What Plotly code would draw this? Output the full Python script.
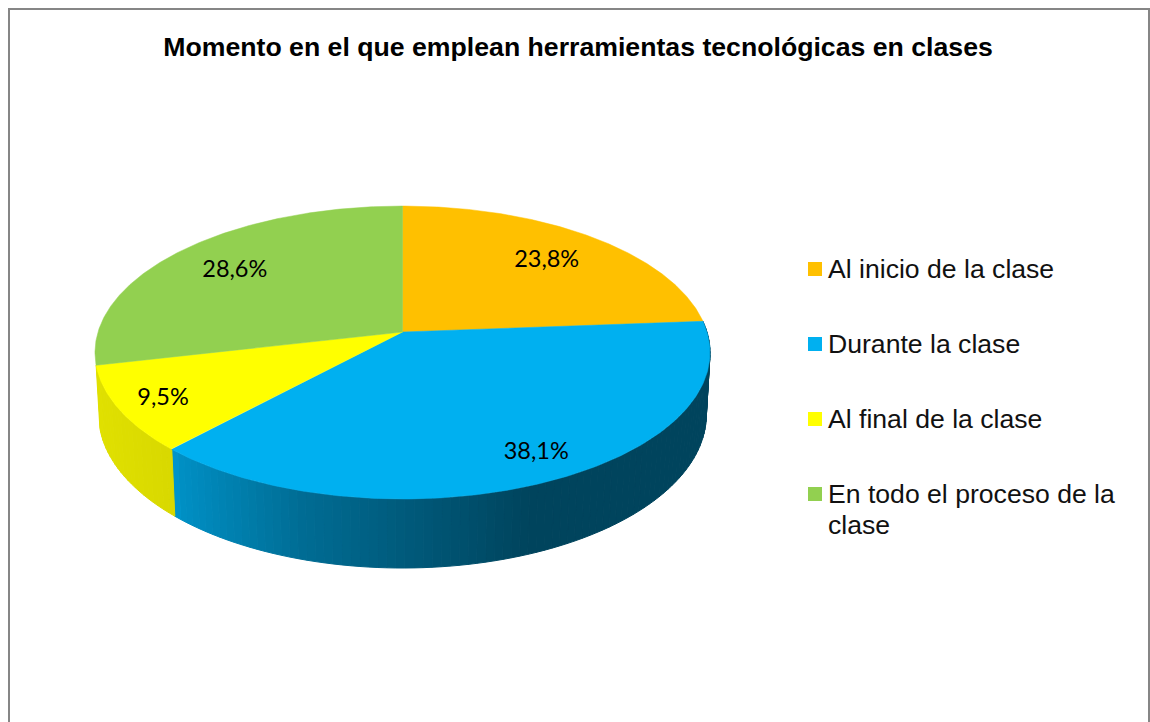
import numpy as np
import plotly.graph_objects as go

titulo = "Momento en el que emplean herramientas tecnológicas en clases"
categorias = ["Al inicio de la clase", "Durante la clase", "Al final de la clase", "En todo el proceso de la<br>clase"]
valores = [23.8, 38.1, 9.5, 28.6]
etiquetas = ["23,8%", "38,1%", "9,5%", "28,6%"]
colores = [(255, 192, 0), (0, 176, 240), (255, 255, 0), (146, 208, 80)]

# donde cae cada etiqueta dentro de su porcion (radio relativo, giro en grados)
radio_etiqueta = [0.75, 0.84, 0.854, 0.75]
giro_etiqueta = [0, -2.2, 0, 0]

# perspectiva del disco, todo en pixeles de la pagina
CX, CY = 402.5, 332
A, B, K = 304.5, 143.6, 0.14
GROSOR, M = 62.2, 0.012


def proyectar(theta, r=1.0, h=0):
    # theta en grados, en sentido horario desde arriba; h=1 es la cara inferior
    u = r * np.sin(np.radians(theta))
    v = -r * np.cos(np.radians(theta))
    w = 1 - K * v + M * h
    return CX + A * u / w, CY + (B * v + GROSOR * h) / w


def sombra(x):
    return np.interp(x, [97, 174, 178, 300, 400, 530, 710], [0.88, 0.85, 0.82, 0.62, 0.52, 0.39, 0.39])


fin = np.cumsum(valores) / sum(valores) * 360
ini = np.concatenate([[0], fin[:-1]])

fig = go.Figure()

# pared lateral: tiras finas para imitar el degradado
# (en el original solo se ve la pared de las porciones azul y amarilla)
for a, b, c in zip(ini, fin, colores):
    if b <= 90 or a >= 250:
        continue
    cortes = np.linspace(a, b, int((b - a) / 1.5) + 2)
    for t0, t1 in zip(cortes[:-1], cortes[1:]):
        x0, y0 = proyectar(t0)
        x1, y1 = proyectar(t1)
        x2, y2 = proyectar(t1, h=1)
        x3, y3 = proyectar(t0, h=1)
        f = sombra((x0 + x1) / 2)
        col = "rgb(%d,%d,%d)" % (c[0] * f, c[1] * f, c[2] * f)
        fig.add_trace(go.Scatter(x=[x0, x1, x2, x3, x0], y=[y0, y1, y2, y3, y0], mode="lines",
                                 fill="toself", fillcolor=col, line=dict(color=col, width=1),
                                 hoverinfo="skip", showlegend=False))

# cara superior
for a, b, c, nombre, val in zip(ini, fin, colores, categorias, valores):
    arco = np.linspace(a, b, 200)
    xs, ys = proyectar(arco)
    col = "rgb(%d,%d,%d)" % c
    fig.add_trace(go.Scatter(x=np.r_[CX, xs, CX], y=np.r_[CY, ys, CY], mode="lines",
                             fill="toself", fillcolor=col, line=dict(color=col, width=0.5),
                             name=nombre.replace("<br>", " "), text=str(val), hoverinfo="name+text",
                             showlegend=False))

# etiquetas de datos
medios = (ini + fin) / 2 + np.array(giro_etiqueta)
lx, ly = proyectar(medios, np.array(radio_etiqueta))
fig.add_trace(go.Scatter(x=lx, y=ly + 2, mode="text", text=etiquetas, textposition="middle center",
                         textfont=dict(family="Lato", size=23.5, color="black"),
                         hoverinfo="skip", showlegend=False))

# leyenda
ley_y = [269 + 75 * i for i in range(len(categorias))]
fig.add_trace(go.Scatter(x=[815] * len(categorias), y=ley_y, mode="markers",
                         marker=dict(symbol="square", size=14, color=["rgb(%d,%d,%d)" % c for c in colores]),
                         hoverinfo="skip", showlegend=False))
tx, ty, tt = [], [], []
for y, nombre in zip(ley_y, categorias):
    for i, linea in enumerate(nombre.split("<br>")):
        tx.append(828)
        ty.append(y + 2 + 31 * i)
        tt.append(linea)
fig.add_trace(go.Scatter(x=tx, y=ty, mode="text", text=tt, textposition="middle right",
                         textfont=dict(family="Liberation Sans", size=26.6, color="#111111"),
                         hoverinfo="skip", showlegend=False))

fig.update_layout(
    width=1150, height=722,
    margin=dict(l=0, r=0, t=0, b=0),
    paper_bgcolor="white", plot_bgcolor="white",
    title=dict(text="<b>" + titulo + "</b>", x=578 / 1150, xanchor="center", y=1 - 47 / 722, yanchor="middle",
               font=dict(family="Liberation Sans", size=26.67, color="black")),
    xaxis=dict(range=[0, 1150], visible=False, fixedrange=True),
    yaxis=dict(range=[722, 0], visible=False, fixedrange=True),
    shapes=[dict(type="rect", xref="x", yref="y", x0=9, y0=9, x1=1149, y1=740,
                 line=dict(color="#868686", width=2), layer="below")],
)

fig.write_html("out.html", config=dict(displayModeBar=False), post_script="document.body.style.margin='0';")
